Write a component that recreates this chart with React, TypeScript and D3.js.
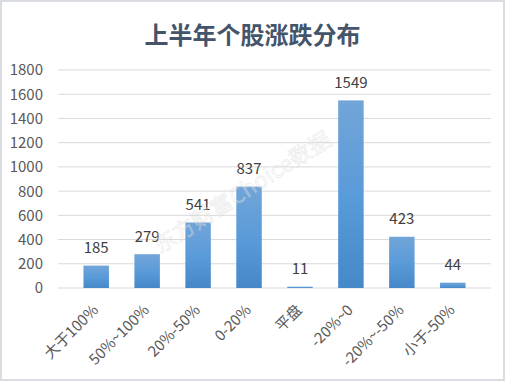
import React from "react";
import * as d3 from "d3";

const categories = ["大于100%", "50%~100%", "20%-50%", "0-20%", "平盘", "-20%~0", "-20%~-50%", "小于-50%"];
const values = [185, 279, 541, 837, 11, 1549, 423, 44];
const yTicks = [0, 200, 400, 600, 800, 1000, 1200, 1400, 1600, 1800];
const title = "上半年个股涨跌分布";
const watermark = "东方财富Choice数据";

const W = 505;
const H = 381;
const FONT = "'Noto Sans CJK SC', 'Noto Sans', sans-serif";

export default function App() {
  const x = d3.scaleBand<string>().domain(categories).range([58, 491]).padding(0.5);
  const y = d3.scaleLinear().domain([0, 1800]).range([288, 70]);

  return (
    <svg width={W} height={H} style={{ position: "absolute", left: 0, top: 0 }} fontFamily={FONT}>
      <defs>
        <linearGradient id="barGrad" x1="0" y1="0" x2="0" y2="1">
          <stop offset="0" stopColor="#72a5d8" />
          <stop offset="0.5" stopColor="#5a9bd9" />
          <stop offset="1" stopColor="#4688c8" />
        </linearGradient>
      </defs>
      <rect x={0} y={0} width={W} height={H} fill="#ffffff" />
      <rect x={1} y={1} width={W - 2} height={H - 2} fill="none" stroke="#d9dde2" strokeWidth={2} />
      <text x={W / 2} y={44} textAnchor="middle" fontSize={24} fontWeight="bold" fill="#44546a">
        {title}
      </text>
      {yTicks.map((t) => (
        <g key={t}>
          <line x1={58} x2={491} y1={y(t)} y2={y(t)} stroke="#d9d9d9" strokeWidth={1} />
          <text x={43} y={y(t)} dy="0.36em" textAnchor="end" fontSize={15} fill="#595959">
            {t}
          </text>
        </g>
      ))}
      {categories.map((c, i) => (
        <g key={c}>
          <rect
            x={x(c)}
            y={y(values[i])}
            width={x.bandwidth()}
            height={y(0) - y(values[i])}
            fill="url(#barGrad)"
          />
          <text
            x={(x(c) as number) + x.bandwidth() / 2}
            y={y(values[i]) - 12.5}
            textAnchor="middle"
            fontSize={15}
            fill="#404040"
          >
            {values[i]}
          </text>
          <text
            transform={`translate(${(x(c) as number) + x.bandwidth() / 2 + 3},${311}) rotate(-45)`}
            textAnchor="end"
            fontSize={15}
            fill="#595959"
          >
            {c}
          </text>
        </g>
      ))}
      <text
        transform="translate(160,254) rotate(-32.6)"
        fontSize={22}
        fill="rgba(255,255,255,0.3)"
        stroke="rgba(200,200,200,0.4)"
        strokeWidth={0.7}
        textLength={205}
      >
        {watermark}
      </text>
    </svg>
  );
}
